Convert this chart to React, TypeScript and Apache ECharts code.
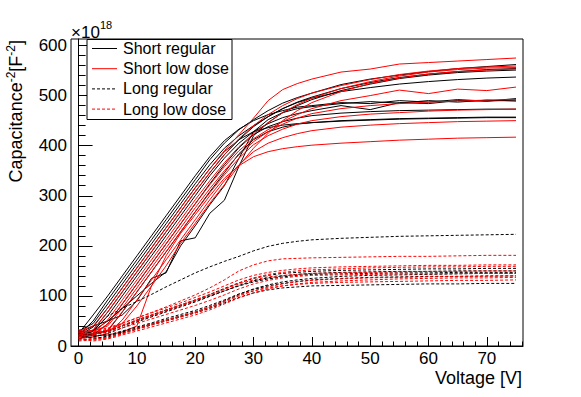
import React, { useEffect, useRef } from "react";
import * as echarts from "echarts";

const FONT = '"Liberation Sans", Arial, Helvetica, sans-serif';

// Voltage grid (V) shared by all curves
const VOLT = [0, 2.5, 5, 7.5, 10, 12.5, 15, 17.5, 20, 22.5, 25, 27.5, 30, 32.5, 35, 37.5, 40, 45, 50, 55, 60, 65, 70, 75];

// Capacitance^-2 in units of 1e18 F^-2
// Short regular (black solid)
const SR1 = [25, 62, 100, 140, 180, 220, 260, 300, 340, 378, 410, 433, 450, 462, 470, 477, 480, 486, 484, 490, 487, 492, 489, 494];
const SR2 = [22, 50, 92, 132, 172, 212, 252, 292, 332, 372, 405, 432, 452, 470, 485, 496, 505, 522, 533, 541, 548, 554, 558, 562];
const SR3 = [30, 45, 84, 124, 164, 204, 244, 284, 324, 362, 395, 420, 440, 458, 474, 487, 497, 514, 526, 536, 543, 548, 552, 554];
const SR4 = [20, 38, 76, 116, 156, 196, 236, 276, 316, 354, 388, 412, 428, 436, 441, 444, 446, 449, 451, 453, 454, 455, 456, 456];
const SR5 = [18, 32, 68, 108, 148, 188, 228, 268, 308, 346, 382, 412, 438, 458, 474, 486, 495, 508, 516, 523, 528, 532, 535, 537];
const SR6 = [28, 30, 60, 100, 140, 180, 220, 260, 300, 340, 375, 405, 428, 444, 456, 464, 470, 480, 472, 486, 484, 490, 489, 491];
const SR7 = [15, 22, 44, 84, 124, 164, 204, 244, 284, 324, 362, 396, 422, 438, 448, 455, 460, 465, 468, 470, 471, 472, 473, 473];
const SR8 = [22, 24, 30, 68, 108, 148, 188, 228, 268, 308, 346, 384, 412, 428, 437, 443, 446, 450, 452, 454, 455, 456, 457, 457];
const SR9 = [20, 30, 50, 62, 90, 135, 146, 210, 216, 265, 291, 359, 420, 446, 466, 480, 492, 510, 523, 534, 541, 546, 549, 551];
const SR10 = [25, 40, 50, 75, 100, 125, 148, 200, 240, 282, 320, 375, 428, 452, 466, 474, 478, 484, 488, 485, 490, 487, 491, 489];

// Short low dose (red solid)
const SL1 = [30, 40, 76, 116, 156, 196, 236, 276, 316, 354, 390, 422, 455, 490, 512, 524, 533, 547, 553, 563, 566, 569, 572, 575];
const SL2 = [25, 32, 68, 108, 148, 188, 228, 268, 308, 346, 382, 414, 440, 462, 480, 494, 505, 520, 532, 542, 549, 554, 557, 559];
const SL3 = [18, 26, 52, 92, 132, 172, 212, 252, 292, 330, 366, 398, 424, 446, 466, 482, 495, 514, 528, 539, 547, 552, 555, 556];
const SL4 = [22, 24, 44, 84, 124, 164, 204, 244, 284, 322, 358, 390, 414, 432, 448, 462, 474, 490, 500, 511, 504, 513, 510, 517];
const SL5 = [28, 30, 40, 76, 116, 156, 196, 236, 276, 314, 350, 382, 408, 428, 443, 455, 464, 474, 480, 484, 487, 489, 491, 492];
const SL6 = [20, 22, 32, 68, 108, 148, 188, 228, 268, 306, 342, 375, 402, 420, 433, 443, 450, 458, 463, 466, 469, 471, 472, 473];
const SL7 = [15, 18, 25, 52, 92, 132, 172, 212, 252, 292, 330, 362, 388, 405, 416, 424, 430, 437, 441, 444, 446, 448, 449, 450];
const SL8 = [25, 20, 22, 28, 40, 120, 180, 225, 262, 300, 335, 360, 378, 388, 394, 398, 401, 405, 408, 411, 413, 415, 416, 417];
const SL9 = [32, 25, 30, 45, 80, 120, 160, 205, 245, 285, 322, 360, 395, 425, 450, 470, 486, 508, 524, 535, 543, 548, 551, 553];

// Long regular (black dashed)
const LR1 = [18, 30, 60, 75, 89, 103, 118, 132, 146, 158, 169, 179, 190, 199, 205, 209, 212, 215, 217, 219, 220, 221, 222, 223];
const LR2 = [25, 22, 28, 40, 52, 62, 72, 82, 92, 103, 115, 126, 135, 141, 145, 147, 149, 151, 152, 153, 154, 154, 155, 155];
const LR3 = [15, 18, 25, 36, 48, 58, 68, 78, 88, 99, 110, 121, 130, 136, 140, 143, 145, 147, 148, 149, 149, 150, 150, 150];
const LR4 = [30, 26, 30, 40, 50, 60, 70, 80, 90, 100, 110, 120, 128, 134, 138, 141, 143, 144, 145, 146, 146, 147, 147, 147];
const LR5 = [12, 14, 20, 28, 36, 44, 52, 60, 68, 78, 90, 103, 114, 122, 128, 132, 135, 139, 141, 142, 143, 144, 145, 145];
const LR6 = [20, 16, 18, 26, 34, 42, 50, 58, 66, 75, 86, 97, 106, 112, 116, 118, 120, 121, 122, 123, 124, 124, 125, 125];
const LR7 = [25, 20, 22, 30, 38, 46, 55, 63, 71, 81, 92, 104, 113, 120, 125, 129, 132, 135, 137, 138, 139, 139, 140, 140];

// Long low dose (red dashed)
const LL1 = [22, 26, 34, 45, 56, 67, 78, 90, 102, 116, 132, 150, 162, 170, 174, 175, 176, 177, 178, 179, 179, 180, 181, 181];
const LL2 = [28, 30, 36, 46, 56, 66, 76, 86, 97, 108, 120, 132, 141, 147, 151, 154, 156, 158, 159, 160, 161, 161, 162, 162];
const LL3 = [18, 22, 30, 40, 50, 60, 70, 80, 91, 102, 114, 126, 136, 143, 147, 150, 152, 154, 156, 157, 158, 158, 159, 159];
const LL4 = [32, 28, 32, 42, 52, 62, 72, 82, 92, 102, 113, 124, 132, 138, 141, 143, 145, 146, 147, 148, 149, 149, 150, 150];
const LL5 = [10, 12, 16, 24, 33, 42, 50, 58, 66, 76, 88, 100, 110, 118, 124, 128, 131, 134, 136, 137, 138, 139, 139, 140];
const LL6 = [15, 10, 14, 22, 30, 38, 46, 54, 62, 72, 84, 96, 106, 114, 120, 124, 127, 130, 132, 134, 135, 136, 136, 137];
const LL7 = [20, 14, 16, 25, 35, 44, 52, 60, 68, 78, 90, 102, 110, 116, 120, 123, 125, 127, 128, 129, 130, 131, 131, 132];
const LL8 = [26, 24, 28, 36, 45, 54, 63, 72, 81, 91, 102, 114, 124, 131, 136, 139, 141, 142, 143, 144, 144, 145, 145, 145];

const GROUPS = [
  { name: "Short regular", color: "#000000", dashed: false, curves: [SR1, SR2, SR3, SR4, SR5, SR6, SR7, SR8, SR9, SR10] },
  { name: "Short low dose", color: "#ff0000", dashed: false, curves: [SL1, SL2, SL3, SL4, SL5, SL6, SL7, SL8, SL9] },
  { name: "Long regular", color: "#000000", dashed: true, curves: [LR1, LR2, LR3, LR4, LR5, LR6, LR7] },
  { name: "Long low dose", color: "#ff0000", dashed: true, curves: [LL1, LL2, LL3, LL4, LL5, LL6, LL7, LL8] },
];

const X_MAJOR = [0, 10, 20, 30, 40, 50, 60, 70];
const X_MINOR = [2, 4, 6, 8, 12, 14, 16, 18, 22, 24, 26, 28, 32, 34, 36, 38, 42, 44, 46, 48, 52, 54, 56, 58, 62, 64, 66, 68, 72, 74, 76];
const Y_MAJOR = [0, 100, 200, 300, 400, 500, 600];
const Y_MINOR = [20, 40, 60, 80, 120, 140, 160, 180, 220, 240, 260, 280, 320, 340, 360, 380, 420, 440, 460, 480, 520, 540, 560, 580, 600];

const X_MIN = -1.3;
const X_MAX = 76.2;
const Y_MIN = 0;
const Y_MAX = 613;

export default function App() {
  const ref = useRef<HTMLDivElement>(null);
  useEffect(() => {
    if (!ref.current) return;
    const chart = echarts.init(ref.current, undefined, { renderer: "svg" });
    const series: any[] = [];
    GROUPS.forEach((g) => {
      g.curves.forEach((c) => {
        series.push({
          type: "line",
          name: g.name,
          data: VOLT.map((v, i) => [v, c[i]]),
          showSymbol: false,
          symbol: "none",
          clip: true,
          silent: true,
          lineStyle: { color: g.color, width: 1, type: g.dashed ? [3, 2] : "solid" },
        });
      });
    });

    const legendRows = GROUPS.map((g, i) => {
      const y = 48.5 + i * 20.2;
      return [
        {
          type: "line",
          shape: { x1: 92, y1: y, x2: 117, y2: y },
          style: { stroke: g.color, lineWidth: 1, lineDash: g.dashed ? [3, 2] : null },
          z: 101,
        },
        {
          type: "text",
          x: 123,
          y: y,
          style: { text: g.name, fill: "#000", font: `16px ${FONT}`, align: "left", verticalAlign: "middle" },
          z: 101,
        },
      ];
    }).flat();

    chart.setOption({
      animation: false,
      backgroundColor: "#ffffff",
      grid: { left: 71, right: 58, top: 39, bottom: 51, show: true, borderColor: "#000", borderWidth: 1, backgroundColor: "transparent" },
      xAxis: [
        {
          type: "value", min: X_MIN, max: X_MAX, position: "bottom",
          axisLine: { show: true, lineStyle: { color: "#000", width: 1 } },
          axisTick: { show: true, inside: true, length: 9, customValues: X_MAJOR, lineStyle: { color: "#000" } },
          axisLabel: { show: true, customValues: X_MAJOR, fontSize: 17, fontFamily: FONT, color: "#000", margin: 4 },
          splitLine: { show: false },
        },
        {
          type: "value", min: X_MIN, max: X_MAX, position: "bottom",
          axisLine: { show: false },
          axisTick: { show: true, inside: true, length: 4.5, customValues: X_MINOR, lineStyle: { color: "#000" } },
          axisLabel: { show: false },
          splitLine: { show: false },
        },
      ],
      yAxis: [
        {
          type: "value", min: Y_MIN, max: Y_MAX, position: "left",
          axisLine: { show: true, lineStyle: { color: "#000", width: 1 } },
          axisTick: { show: true, inside: true, length: 14, customValues: Y_MAJOR, lineStyle: { color: "#000" } },
          axisLabel: { show: true, customValues: Y_MAJOR, fontSize: 17, fontFamily: FONT, color: "#000", margin: 4 },
          splitLine: { show: false },
        },
        {
          type: "value", min: Y_MIN, max: Y_MAX, position: "left",
          axisLine: { show: false },
          axisTick: { show: true, inside: true, length: 7, customValues: Y_MINOR, lineStyle: { color: "#000" } },
          axisLabel: { show: false },
          splitLine: { show: false },
        },
      ],
      series,
      graphic: [
        {
          type: "rect",
          shape: { x: 87, y: 39.5, width: 145, height: 80 },
          style: { fill: "#ffffff", stroke: "#000", lineWidth: 1 },
          z: 100,
        },
        ...legendRows,
        {
          type: "text",
          x: 71,
          y: 32,
          style: { text: "×10", fill: "#000", font: `17px ${FONT}`, align: "left", verticalAlign: "middle" },
          z: 101,
        },
        {
          type: "text",
          x: 100,
          y: 25,
          style: { text: "18", fill: "#000", font: `11px ${FONT}`, align: "left", verticalAlign: "middle" },
          z: 101,
        },
        {
          type: "text",
          x: 522,
          y: 378,
          style: { text: "Voltage [V]", fill: "#000", font: `18px ${FONT}`, align: "right", verticalAlign: "middle" },
          z: 101,
        },
        {
          type: "text",
          x: 14.5,
          y: 40,
          rotation: Math.PI / 2,
          style: {
            text: "{a|Capacitance}{s|-2}{a|[F}{s|-2}{a|]}",
            align: "right",
            verticalAlign: "middle",
            fill: "#000",
            rich: {
              a: { fontSize: 18, fontFamily: FONT, fill: "#000", lineHeight: 20, verticalAlign: "bottom" },
              s: { fontSize: 12, fontFamily: FONT, fill: "#000", lineHeight: 12, verticalAlign: "top" },
            },
          },
          z: 101,
        },
      ],
    });
    return () => chart.dispose();
  }, []);
  return <div ref={ref} style={{ position: "fixed", left: 0, top: 0, width: 581, height: 397, background: "#fff" }} />;
}
